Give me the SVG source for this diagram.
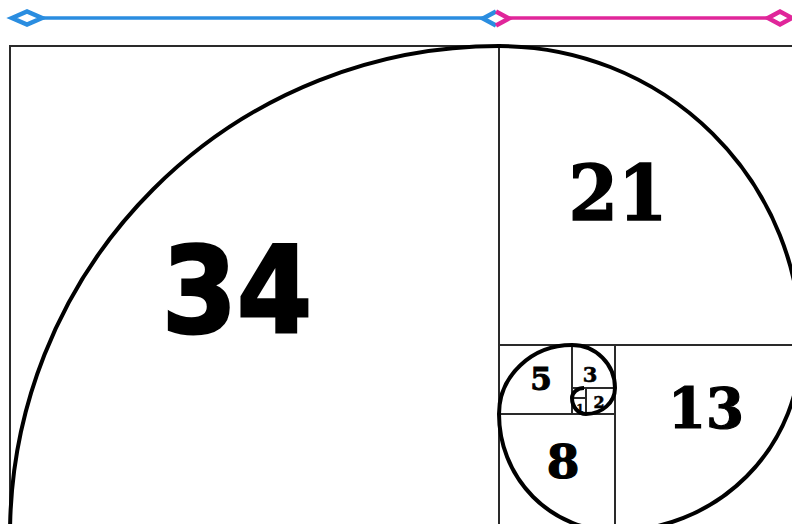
<svg xmlns="http://www.w3.org/2000/svg" width="792" height="524" viewBox="0 0 792 524">
<style>
.frame{fill:none;stroke:#2a2a2a;stroke-width:2}
.spiral{fill:none;stroke:#000;stroke-width:4;stroke-linecap:butt}
.blue{stroke:#2a8de0;stroke-width:3.5;fill:none}
.pink{stroke:#e0269a;stroke-width:3.5;fill:none}
.dia{fill:#fff;stroke-width:4.5;stroke-linejoin:miter}
.num{font-family:"DejaVu Serif","Liberation Serif",serif;font-weight:bold;fill:#000;stroke:#000;text-anchor:middle}
.sans{font-family:"DejaVu Sans","Liberation Sans",sans-serif;font-weight:bold;fill:#000;stroke:#000;text-anchor:middle}
</style>
<rect width="792" height="524" fill="#fff"/>
<g id="connectors">
<line class="blue" x1="40" y1="18" x2="484" y2="18"/>
<line class="pink" x1="508" y1="18" x2="770" y2="18"/>
</g>
<g id="ruler-ends">
<polygon class="blue dia" points="12,18 27,11.5 42,18 27,24.5"/>
<polyline class="blue dia" points="496,11.5 483,18.5 496,25.5" fill="none"/>
<polyline class="pink dia" points="496,11.5 509,18.5 496,25.5" fill="none"/>
<polygon class="pink dia" points="768,18 780,11.5 792,18 780,24.5"/>
</g>
<g id="squares">
<path class="frame" d="M792 46 H10 V524"/>
<line class="frame" x1="499" y1="46" x2="499" y2="524"/>
<line class="frame" x1="499" y1="345" x2="792" y2="345"/>
<line class="frame" x1="615" y1="345" x2="615" y2="524"/>
<line class="frame" x1="499" y1="414" x2="615" y2="414"/>
<line class="frame" x1="572" y1="345" x2="572" y2="414"/>
<line class="frame" x1="572" y1="388" x2="615" y2="388"/>
<line class="frame" x1="586" y1="388" x2="586" y2="414"/>
<line class="frame" x1="572" y1="398" x2="586" y2="398" stroke-width="1.5"/>
</g>
<g id="spiral">
<path class="spiral" d="M10 535 A489 489 0 0 1 499 46 A302 299 0 0 1 801 345 A186 186 0 0 1 615 531 A116 117 0 0 1 499 414 A73 69 0 0 1 572 345 A43 43 0 0 1 615 388 A29 26 0 0 1 586 414 A14 16 0 0 1 572 398"/>
<path class="spiral" stroke-width="2" d="M572 398 A12 10 0 0 1 584 388"/>
</g>
<g id="labels">
<text class="sans" x="237" y="332" font-size="119" stroke-width="3" textLength="150" lengthAdjust="spacingAndGlyphs">34</text>
<text class="num" x="618" y="220" font-size="77" stroke-width="1.5" textLength="99" lengthAdjust="spacingAndGlyphs">21</text>
<text class="num" x="706" y="428" font-size="56" stroke-width="1.2" textLength="76" lengthAdjust="spacingAndGlyphs">13</text>
<text class="num" x="563" y="478" font-size="47" stroke-width="1.2">8</text>
<text class="num" x="541" y="390" font-size="31" stroke-width="1">5</text>
<text class="num" x="590" y="382" font-size="21" stroke-width="0.6">3</text>
<text class="num" x="599" y="408" font-size="16" stroke-width="0.5">2</text>
<text class="num" x="580" y="412" font-size="11" stroke-width="0.3">1</text>
</g>
</svg>
